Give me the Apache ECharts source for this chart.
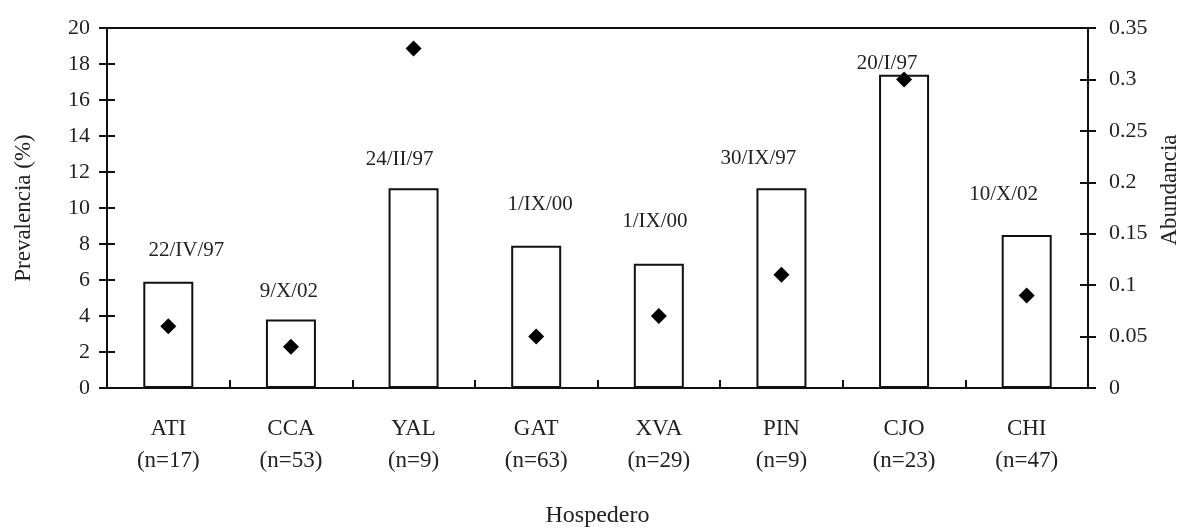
<!DOCTYPE html>
<html>
<head>
<meta charset="utf-8">
<title>Prevalencia y abundancia por hospedero</title>
<script src="https://cdn.jsdelivr.net/npm/echarts@6/dist/echarts.min.js"></script>
<style>
    html, body { margin: 0; padding: 0; background: #fff; }
    #chart { width: 1190px; height: 531px; }
</style>
</head>
<body>
<div id="chart"></div>
<script>
    // datos del gráfico
    var hospederos = ['ATI', 'CCA', 'YAL', 'GAT', 'XVA', 'PIN', 'CJO', 'CHI'];
    var tamanoMuestra = [17, 53, 9, 63, 29, 9, 23, 47];
    var fechas = ['22/IV/97', '9/X/02', '24/II/97', '1/IX/00', '1/IX/00', '30/IX/97', '20/I/97', '10/X/02'];
    var prevalencia = [5.9, 3.8, 11.1, 7.9, 6.9, 11.1, 17.4, 8.5];
    var abundancia = [0.06, 0.04, 0.33, 0.05, 0.07, 0.11, 0.30, 0.09];

    // desplazamiento de cada fecha respecto a su barra (solo maquetación)
    var ajusteFecha = [[18, -19], [-2, -16], [-14, -16], [4, -29], [-4, -30], [-23, -17], [-17, 1], [-23, -28]];

    var fuente = 'Liberation Serif';
    var negro = '#111';
    var texto = '#222';

    var chart = echarts.init(document.getElementById('chart'));

    // eje con ticks hacia dentro, para que crucen la línea como en el original
    function ejeInterno(base) {
        return Object.assign({
            axisLine: { show: false, onZero: false },
            axisLabel: { show: false },
            splitLine: { show: false },
            axisTick: { show: true, inside: true, length: 8, lineStyle: { color: negro, width: 2 } }
        }, base);
    }

    var option = {
        animation: false,
        backgroundColor: '#fff',
        grid: { left: 107, right: 102, top: 28, bottom: 143, outerBoundsMode: 'none' },
        xAxis: [{
            type: 'category',
            position: 'bottom',
            data: hospederos,
            name: 'Hospedero',
            nameLocation: 'middle',
            nameGap: 116,
            nameTextStyle: { fontFamily: fuente, fontSize: 24, color: texto },
            axisLine: { onZero: false, lineStyle: { color: negro, width: 2 } },
            axisTick: { length: 9, lineStyle: { color: negro, width: 2 } },
            axisLabel: {
                margin: 25,
                fontFamily: fuente,
                fontSize: 23,
                lineHeight: 32,
                color: texto,
                formatter: function (v, i) {
                    return v + '\n(n=' + tamanoMuestra[i] + ')';
                }
            }
        }, ejeInterno({
            type: 'category',
            position: 'bottom',
            data: hospederos
        }), {
            type: 'category',
            position: 'top',
            data: hospederos,
            axisLine: { show: true, onZero: false, lineStyle: { color: negro, width: 2 } },
            axisTick: { show: false },
            axisLabel: { show: false }
        }],
        yAxis: [{
            type: 'value',
            position: 'left',
            min: 0,
            max: 20,
            interval: 2,
            name: 'Prevalencia (%)',
            nameLocation: 'middle',
            nameGap: 72,
            nameTextStyle: { fontFamily: fuente, fontSize: 23, color: texto },
            axisLine: { show: true, onZero: false, lineStyle: { color: negro, width: 2 } },
            axisTick: { show: true, length: 8, lineStyle: { color: negro, width: 2 } },
            axisLabel: { margin: 17, fontFamily: fuente, fontSize: 22, color: texto },
            splitLine: { show: false }
        }, {
            type: 'value',
            position: 'right',
            min: 0,
            max: 0.35,
            interval: 0.05,
            name: 'Abundancia',
            nameLocation: 'middle',
            nameGap: 69,
            nameTextStyle: { fontFamily: fuente, fontSize: 23, color: texto, padding: [0, 0, 0, 36] },
            axisLine: { show: true, onZero: false, lineStyle: { color: negro, width: 2 } },
            axisTick: { show: true, length: 8, lineStyle: { color: negro, width: 2 } },
            axisLabel: { margin: 21, fontFamily: fuente, fontSize: 22, color: texto },
            splitLine: { show: false }
        }, ejeInterno({
            type: 'value', position: 'left', min: 0, max: 20, interval: 2
        }), ejeInterno({
            type: 'value', position: 'right', min: 0, max: 0.35, interval: 0.05
        })],
        series: [{
            name: 'Prevalencia',
            type: 'bar',
            xAxisIndex: 0,
            yAxisIndex: 0,
            barWidth: 50,
            itemStyle: { color: '#fff', borderColor: negro, borderWidth: 2 },
            label: {
                show: true,
                position: 'top',
                distance: 2,
                fontFamily: fuente,
                fontSize: 21,
                color: texto,
                formatter: function (p) { return fechas[p.dataIndex]; }
            },
            data: prevalencia.map(function (v, i) {
                return { value: v, label: { offset: ajusteFecha[i] } };
            }),
            z: 2
        }, {
            name: 'Abundancia',
            type: 'scatter',
            xAxisIndex: 0,
            yAxisIndex: 1,
            symbol: 'diamond',
            symbolSize: 16,
            itemStyle: { color: '#000', opacity: 1 },
            data: abundancia,
            z: 5
        }]
    };

    chart.setOption(option);
</script>
</body>
</html>
